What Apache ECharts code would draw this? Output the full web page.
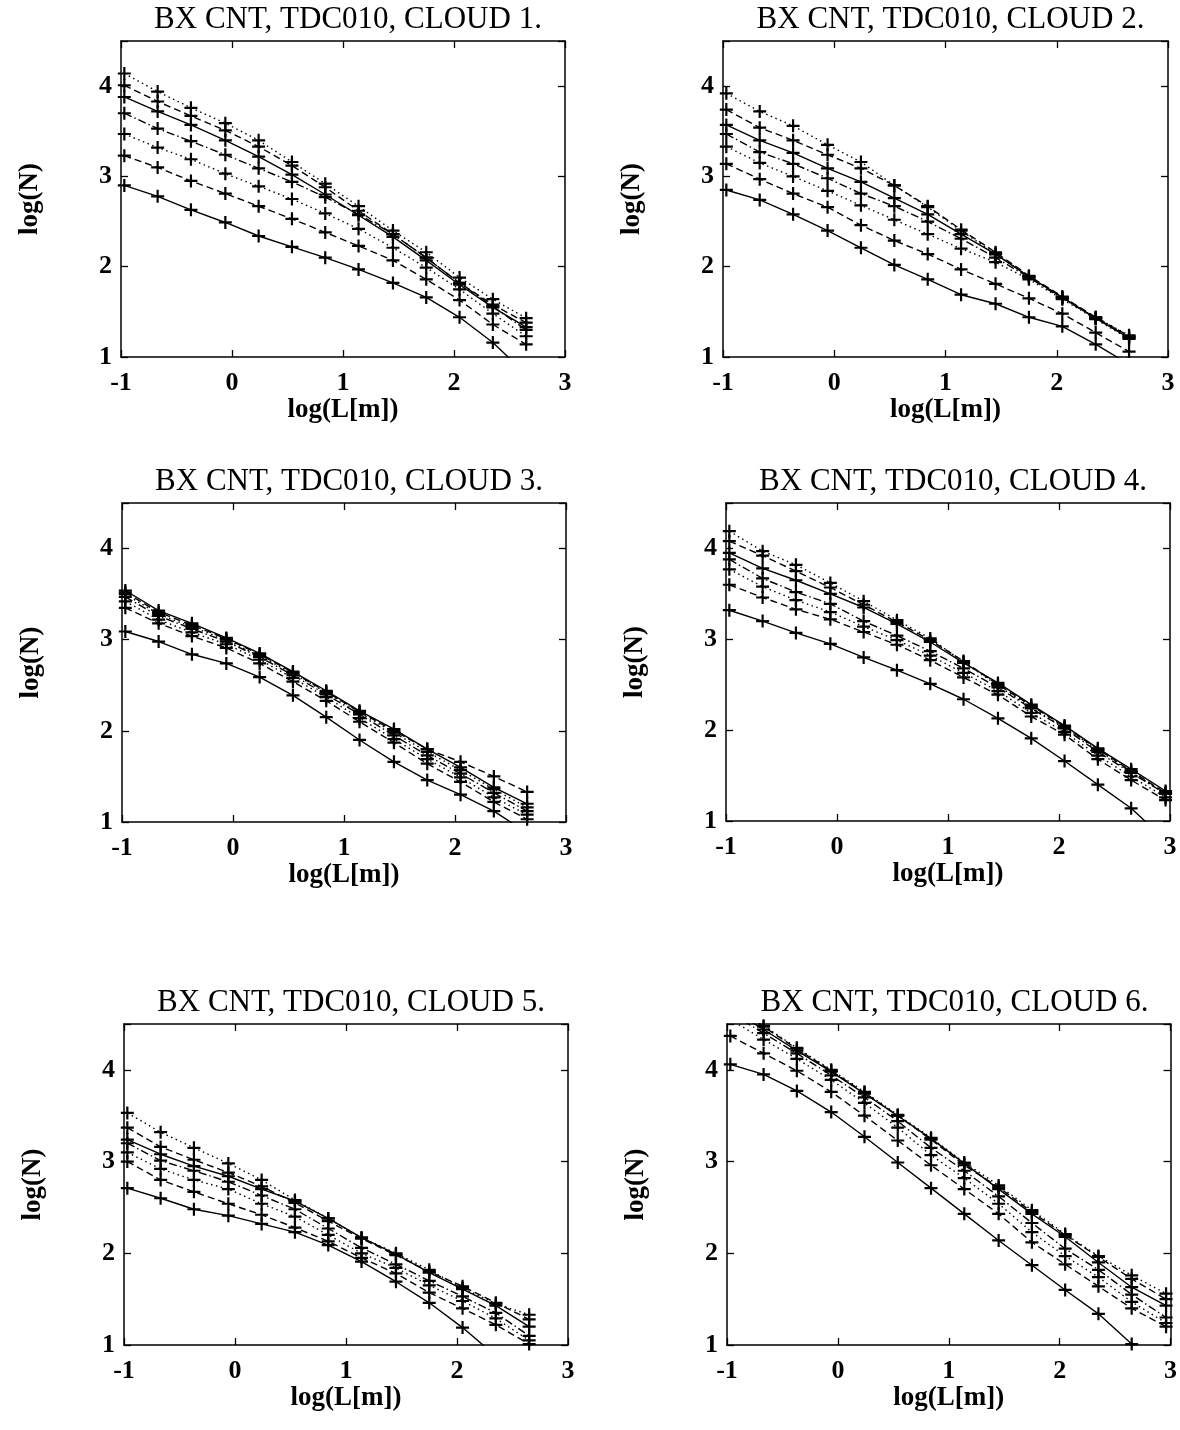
<!DOCTYPE html>
<html>
<head>
<meta charset="utf-8">
<script src="https://cdn.jsdelivr.net/npm/echarts@6/dist/echarts.min.js"></script>
<style>
html,body{margin:0;padding:0;background:#fff;}
#chart{width:1180px;height:1430px;}
</style>
</head>
<body>
<div id="chart"></div>
<script>
// x positions: log(L[m])
const xLog = [-0.97, -0.67, -0.37, -0.06, 0.24, 0.54, 0.84, 1.14, 1.45, 1.75, 2.05, 2.35, 2.65, 2.96];

const titles = [
  'BX CNT, TDC010, CLOUD 1.', 'BX CNT, TDC010, CLOUD 2.',
  'BX CNT, TDC010, CLOUD 3.', 'BX CNT, TDC010, CLOUD 4.',
  'BX CNT, TDC010, CLOUD 5.', 'BX CNT, TDC010, CLOUD 6.'
];
const xTicks = [-1, 0, 1, 2, 3];
const yTicks = [1, 2, 3, 4];

// log(N) curves, 7 per cloud
const cloud1 = [
  [2.90, 2.78, 2.63, 2.49, 2.34, 2.22, 2.10, 1.97, 1.82, 1.66, 1.44, 1.16, 0.81],
  [3.23, 3.10, 2.95, 2.81, 2.67, 2.53, 2.38, 2.23, 2.07, 1.86, 1.63, 1.36, 1.14],
  [3.47, 3.32, 3.19, 3.03, 2.89, 2.75, 2.59, 2.42, 2.21, 1.99, 1.75, 1.48, 1.23],
  [3.70, 3.53, 3.39, 3.24, 3.09, 2.94, 2.77, 2.58, 2.36, 2.10, 1.82, 1.56, 1.30],
  [3.88, 3.72, 3.57, 3.40, 3.22, 3.02, 2.80, 2.57, 2.33, 2.07, 1.80, 1.55, 1.33],
  [4.01, 3.83, 3.67, 3.51, 3.33, 3.12, 2.88, 2.62, 2.36, 2.10, 1.82, 1.58, 1.38],
  [4.14, 3.94, 3.76, 3.59, 3.40, 3.16, 2.92, 2.67, 2.40, 2.16, 1.88, 1.64, 1.43]
];
const cloud2 = [
  [2.85, 2.74, 2.58, 2.40, 2.21, 2.02, 1.86, 1.69, 1.59, 1.44, 1.34, 1.14, 0.92],
  [3.14, 2.97, 2.81, 2.66, 2.46, 2.29, 2.14, 1.97, 1.81, 1.65, 1.48, 1.27, 1.06],
  [3.33, 3.15, 3.00, 2.84, 2.68, 2.52, 2.36, 2.20, 2.05, 1.86, 1.64, 1.42, 1.20],
  [3.47, 3.27, 3.14, 2.98, 2.81, 2.67, 2.50, 2.31, 2.10, 1.88, 1.65, 1.43, 1.22],
  [3.57, 3.40, 3.26, 3.09, 2.94, 2.76, 2.58, 2.36, 2.14, 1.89, 1.66, 1.43, 1.21],
  [3.74, 3.54, 3.40, 3.24, 3.09, 2.90, 2.67, 2.41, 2.16, 1.90, 1.67, 1.44, 1.23],
  [3.92, 3.72, 3.56, 3.35, 3.16, 2.90, 2.66, 2.40, 2.14, 1.89, 1.66, 1.44, 1.24]
];
const cloud3 = [
  [3.09, 2.98, 2.84, 2.74, 2.59, 2.39, 2.15, 1.90, 1.66, 1.46, 1.30, 1.12, 0.88],
  [3.35, 3.18, 3.04, 2.91, 2.74, 2.54, 2.33, 2.10, 1.87, 1.64, 1.44, 1.22, 1.03],
  [3.42, 3.22, 3.08, 2.95, 2.78, 2.58, 2.37, 2.14, 1.91, 1.69, 1.49, 1.27, 1.08],
  [3.47, 3.26, 3.12, 2.98, 2.81, 2.61, 2.40, 2.18, 1.95, 1.73, 1.53, 1.32, 1.12],
  [3.54, 3.32, 3.18, 3.02, 2.85, 2.65, 2.44, 2.22, 2.02, 1.80, 1.60, 1.38, 1.20],
  [3.52, 3.30, 3.16, 3.01, 2.84, 2.64, 2.43, 2.21, 2.00, 1.80, 1.66, 1.50, 1.33],
  [3.50, 3.28, 3.14, 3.00, 2.82, 2.63, 2.42, 2.20, 1.98, 1.77, 1.57, 1.36, 1.16]
];
const cloud4 = [
  [3.32, 3.20, 3.07, 2.95, 2.80, 2.66, 2.51, 2.34, 2.13, 1.91, 1.66, 1.40, 1.14, 0.79],
  [3.60, 3.46, 3.33, 3.22, 3.08, 2.94, 2.77, 2.58, 2.39, 2.15, 1.95, 1.68, 1.45, 1.23],
  [3.77, 3.58, 3.43, 3.30, 3.14, 2.99, 2.82, 2.63, 2.43, 2.19, 1.98, 1.72, 1.49, 1.26],
  [3.88, 3.67, 3.52, 3.39, 3.20, 3.04, 2.87, 2.68, 2.47, 2.24, 2.02, 1.76, 1.53, 1.30],
  [3.95, 3.78, 3.65, 3.50, 3.35, 3.17, 2.97, 2.74, 2.52, 2.28, 2.05, 1.80, 1.57, 1.33],
  [4.08, 3.92, 3.75, 3.57, 3.38, 3.19, 2.99, 2.76, 2.50, 2.27, 2.04, 1.79, 1.55, 1.31],
  [4.19, 3.97, 3.82, 3.62, 3.42, 3.21, 3.01, 2.75, 2.49, 2.25, 2.03, 1.78, 1.54, 1.30]
];
const cloud5 = [
  [2.71, 2.60, 2.48, 2.41, 2.32, 2.23, 2.09, 1.91, 1.69, 1.46, 1.19, 0.88, 0.58],
  [3.00, 2.80, 2.67, 2.54, 2.42, 2.28, 2.13, 1.95, 1.78, 1.57, 1.40, 1.22, 1.01],
  [3.10, 2.92, 2.80, 2.70, 2.54, 2.40, 2.20, 2.00, 1.84, 1.65, 1.48, 1.29, 1.05],
  [3.20, 3.01, 2.90, 2.78, 2.63, 2.48, 2.27, 2.06, 1.88, 1.70, 1.53, 1.35, 1.10],
  [3.24, 3.08, 2.95, 2.84, 2.70, 2.57, 2.38, 2.17, 1.99, 1.79, 1.61, 1.43, 1.20],
  [3.37, 3.16, 3.02, 2.88, 2.73, 2.55, 2.35, 2.16, 1.98, 1.80, 1.64, 1.46, 1.28],
  [3.53, 3.32, 3.15, 2.98, 2.80, 2.58, 2.38, 2.17, 2.00, 1.82, 1.62, 1.45, 1.33]
];
const cloud6 = [
  [4.06, 3.95, 3.77, 3.54, 3.27, 2.99, 2.71, 2.43, 2.14, 1.87, 1.60, 1.34, 1.01, 0.72],
  [4.37, 4.18, 3.99, 3.76, 3.50, 3.23, 2.96, 2.70, 2.43, 2.12, 1.88, 1.64, 1.40, 1.20],
  [4.55, 4.33, 4.12, 3.89, 3.64, 3.37, 3.07, 2.82, 2.54, 2.23, 1.97, 1.74, 1.47, 1.24],
  [4.62, 4.40, 4.18, 3.94, 3.70, 3.44, 3.15, 2.90, 2.62, 2.33, 2.05, 1.82, 1.55, 1.30],
  [4.66, 4.44, 4.21, 3.98, 3.74, 3.50, 3.25, 2.98, 2.70, 2.43, 2.18, 1.90, 1.63, 1.43],
  [4.70, 4.47, 4.23, 3.99, 3.75, 3.50, 3.24, 2.96, 2.72, 2.45, 2.20, 1.96, 1.72, 1.50],
  [4.72, 4.48, 4.24, 4.00, 3.76, 3.51, 3.26, 2.99, 2.74, 2.47, 2.21, 1.97, 1.76, 1.56]
];

const clouds = [cloud1, cloud2, cloud3, cloud4, cloud5, cloud6];

// ---- styles / layout ----
const lineTypes = ['solid', [7, 4], [1.5, 3.5], [8, 3, 1.5, 3], 'solid', [7, 4], [1.5, 3.5]];
const grids = [
  {left: 121, top: 41, width: 444, height: 316},
  {left: 723, top: 41, width: 445, height: 316},
  {left: 122, top: 503, width: 444, height: 319},
  {left: 726, top: 503, width: 444, height: 318},
  {left: 124, top: 1024, width: 444, height: 321},
  {left: 727, top: 1024, width: 445, height: 321}
];
const FONT = "'Liberation Serif', 'Times New Roman', serif";
const plusPath = 'path://M0,5.4 L13,5.4 L13,7.6 L0,7.6 Z M5.4,0 L7.6,0 L7.6,13 L5.4,13 Z';

const axisLineStyle = {onZero: false, lineStyle: {color: '#000', width: 1.5}};
const tickStyle = {inside: true, length: 7, lineStyle: {color: '#000', width: 1.3}};
const fmt = v => (Math.abs(v - Math.round(v)) < 1e-9 ? String(Math.round(v)) : '');

const option = {
  animation: false,
  backgroundColor: '#fff',
  title: [],
  grid: [],
  xAxis: [],
  yAxis: [],
  series: []
};

grids.forEach((g, i) => {
  option.grid.push(Object.assign({containLabel: false}, g));
  option.title.push({
    text: titles[i],
    left: g.left + g.width / 2,
    top: g.top - 42,
    textAlign: 'center',
    textStyle: {fontFamily: FONT, fontSize: 31, fontWeight: 'normal', color: '#000'}
  });
  // bottom x axis
  option.xAxis.push({
    type: 'value', gridIndex: i, position: 'bottom', min: -1, max: 3, interval: 1,
    name: 'log(L[m])', nameLocation: 'middle', nameGap: 33,
    nameTextStyle: {fontFamily: FONT, fontSize: 27, fontWeight: 'bold', color: '#000'},
    axisLine: axisLineStyle, axisTick: tickStyle, splitLine: {show: false},
    axisLabel: {fontFamily: FONT, fontSize: 26, fontWeight: 'bold', color: '#000', margin: 13, formatter: fmt}
  });
  // top mirror x axis
  option.xAxis.push({
    type: 'value', gridIndex: i, position: 'top', min: -1, max: 3, interval: 1,
    axisLine: axisLineStyle, axisTick: tickStyle, splitLine: {show: false}, axisLabel: {show: false}
  });
  // left y axis
  option.yAxis.push({
    type: 'value', gridIndex: i, position: 'left', min: 1, max: 4.5, interval: 1,
    name: 'log(N)', nameLocation: 'middle', nameGap: 77, nameRotate: 90,
    nameTextStyle: {fontFamily: FONT, fontSize: 27, fontWeight: 'bold', color: '#000'},
    axisLine: axisLineStyle, axisTick: tickStyle, splitLine: {show: false},
    axisLabel: {fontFamily: FONT, fontSize: 26, fontWeight: 'bold', color: '#000', margin: 9, formatter: fmt}
  });
  // right mirror y axis
  option.yAxis.push({
    type: 'value', gridIndex: i, position: 'right', min: 1, max: 4.5, interval: 1,
    axisLine: axisLineStyle, axisTick: tickStyle, splitLine: {show: false}, axisLabel: {show: false}
  });

  clouds[i].forEach((vals, k) => {
    option.series.push({
      type: 'line',
      xAxisIndex: 2 * i,
      yAxisIndex: 2 * i,
      data: vals.map((v, j) => [xLog[j], v]),
      clip: true,
      symbol: plusPath,
      symbolSize: 13,
      showSymbol: true,
      itemStyle: {color: '#000'},
      lineStyle: {color: '#000', width: 1.4, type: lineTypes[k]},
      emphasis: {disabled: true},
      silent: true,
      z: 2 + k
    });
  });
});

const chart = echarts.init(document.getElementById('chart'), null, {renderer: 'canvas'});
chart.setOption(option);
</script>
</body>
</html>
